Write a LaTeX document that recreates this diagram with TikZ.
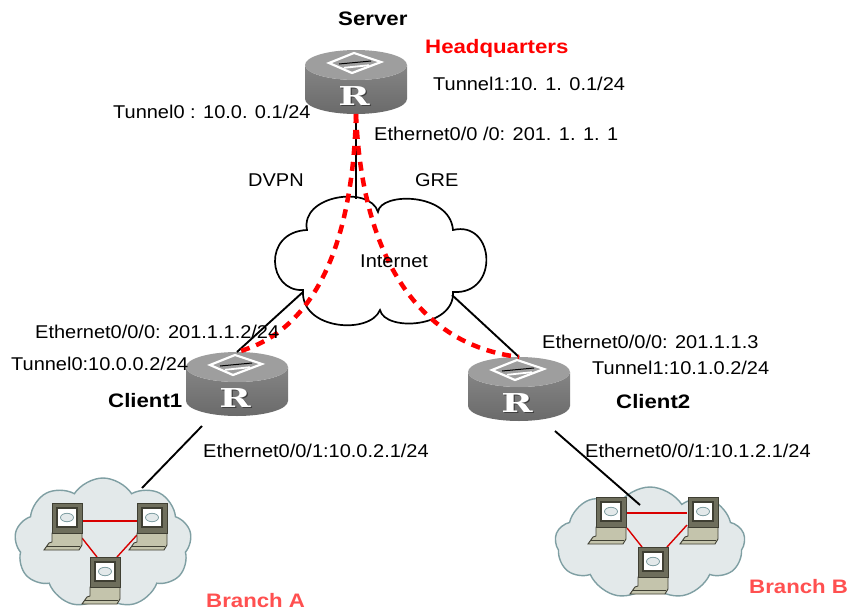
\documentclass[tikz,border=0pt]{standalone}
\usepackage{graphicx}
\usepackage{fontspec}
\setmainfont{Liberation Sans}[FakeStretch=1.08,BoldFeatures={FakeStretch=1.14}]
\newfontfamily\rfont{DejaVu Serif}
\usetikzlibrary{shapes.symbols}

\definecolor{rtop}{HTML}{9E9E9E}
\definecolor{rsideA}{HTML}{858585}
\definecolor{rsideB}{HTML}{6A6A6A}
\definecolor{tunred}{HTML}{FF0000}
\definecolor{branchred}{HTML}{FF5050}
\definecolor{cloudfill}{HTML}{E3E9EA}
\definecolor{cloudline}{HTML}{7F9FA3}
\definecolor{pcdark}{HTML}{3F3F33}
\definecolor{pcmid}{HTML}{6E6E5C}
\definecolor{pckey}{HTML}{C4C4AC}

\tikzset{
  lab/.style={anchor=base west, inner sep=0pt, font=\fontsize{18.5}{20}\selectfont},
  blab/.style={anchor=base west, inner sep=0pt, font=\fontsize{19.5}{21}\selectfont\bfseries},
  wire/.style={line width=1.9pt, black},
  tunnel/.style={line width=4.5pt, tunred, dash pattern=on 9pt off 7pt},
  lanlink/.style={line width=1.4pt, red!85!black},
  branchcloud/.style={cloud, cloud puffs=9, cloud puff arc=115, draw=cloudline,
    fill=cloudfill, line width=1.4pt, inner sep=0pt},
  % router: cylinder with a diamond on top and an R on the side
  router/.pic={
    \path[top color=rsideA, bottom color=rsideB]
      (-51,0) -- (-51,34) arc[start angle=180, end angle=0, x radius=51, y radius=15]
      -- (51,0) arc[start angle=0, end angle=180, x radius=51, y radius=15] -- cycle;
    \fill[rtop] (0,0) ellipse[x radius=51, y radius=15];
    \draw[white, line width=2.2pt, line join=miter] (-27,-2) -- (-2,-12) -- (25,-3) -- (-4,8) -- cycle;
    \draw[black, line width=1pt] (-17,-1) -- (15,-4);
    \draw[white, line width=1.8pt] (-12,2.8) -- (13,0.2);
    \node[inner sep=0pt, text=black!75, font=\rfont\bfseries\fontsize{26}{26}\selectfont] (-shadow) at (-0.8,32.2) {\scalebox{1.45}[1]{R}};
    \node[inner sep=0pt, text=white, font=\rfont\bfseries\fontsize{26}{26}\selectfont] (-glyph) at (-2,31) {\scalebox{1.45}[1]{R}};
    \coordinate (-top) at (0,-15);
    \coordinate (-bot) at (0,49);
  },
  % desktop computer: monitor centred on the origin, keyboard below
  pcicon/.pic={
    \draw[pcdark, fill=pckey, line width=0.9pt]
      (-15,15) -- (15,15) -- (15,27) -- (12,32) -- (-23,32) -- (-18,25) -- (-15,24) -- cycle;
    \draw[pcdark, line width=0.9pt] (-20,28) -- (13,28);
    \draw[pcdark, fill=pcmid, line width=0.9pt] (-15,-15) rectangle (15,15);
    \fill[pcdark] (-11,-11) rectangle (11,10);
    \fill[white] (-9,-9) rectangle (9,8);
    \draw[cloudline, fill=cloudfill, line width=0.8pt] (0,-0.5) ellipse[x radius=6.5, y radius=4.2];
  }
}

\begin{document}
\begin{tikzpicture}[x=1pt, y=-1pt]
\path[use as bounding box, fill=white] (0,0) rectangle (847,611);

% ---- Internet cloud ----
\draw[line width=1.7pt, fill=white]
  (303,290) .. controls (268,292) and (262,232) .. (307,230)
  .. controls (300,195) and (370,185) .. (378,212)
  .. controls (380,192) and (450,192) .. (453,230)
  .. controls (495,220) and (500,295) .. (453,292)
  .. controls (455,328) and (385,332) .. (380,310)
  .. controls (370,335) and (300,330) .. (303,290) -- cycle;
\coordinate (inet-n) at (356,199);
\coordinate (inet-sw) at (303,292);
\coordinate (inet-se) at (452,295);

% ---- branch clouds ----
\node[branchcloud, aspect=1.36, minimum width=177pt, minimum height=130pt] (brA) at (103,543) {};
\node[branchcloud, aspect=1.7, minimum width=190pt, minimum height=112pt] (brB) at (650,543) {};
\coordinate (brA-in) at (142,488);
\coordinate (brB-in) at (640,505);

% ---- routers ----
\pic (srv) at (356,65) {router};
\pic (cla) at (237,367) {router};
\pic (clb) at (519,372) {router};
\coordinate (cla-out) at (202,426);
\coordinate (clb-out) at (555,431);

% ---- physical links ----
\draw[wire] (srv-bot) -- (inet-n);
\draw[wire] (inet-sw) -- (cla-top);
\draw[wire] (inet-se) -- (clb-top);
\draw[wire] (cla-out) -- (brA-in);
\draw[wire] (clb-out) -- (brB-in);

% ---- tunnels ----
\draw[tunnel] (srv-bot) .. controls (352,270) and (300,335) .. (cla-top);
\draw[tunnel] (srv-bot) .. controls (362,260) and (420,345) .. (clb-top);

% ---- branch A hosts ----
\coordinate (a1) at (67,518);
\coordinate (a2) at (152,518);
\coordinate (a3) at (105,572);
\draw[lanlink] (82,521) -- (137,521);
\draw[lanlink] (82,538) -- (97,557);
\draw[lanlink] (137,535) -- (117,557);
\pic at (a1) {pcicon};
\pic at (a2) {pcicon};
\pic at (a3) {pcicon};

% ---- branch B hosts ----
\coordinate (b1) at (611,512);
\coordinate (b2) at (703,512);
\coordinate (b3) at (653,562);
\draw[lanlink] (627,513) -- (687,513);
\draw[lanlink] (627,528) -- (642,547);
\draw[lanlink] (687,525) -- (667,547);
\pic at (b1) {pcicon};
\pic at (b2) {pcicon};
\pic at (b3) {pcicon};

% ---- labels ----
\node[blab] (srvname) at (338,25) {Server};
\node[blab, text=tunred] (hq) at (425,53) {Headquarters};
\node[lab] (srvt1) at (433,90) {Tunnel1:10. 1. 0.1/24};
\node[lab] (srvt0) at (113,118) {Tunnel0 : 10.0. 0.1/24};
\node[lab] (srveth) at (374,140) {Ethernet0/0 /0: 201. 1. 1. 1};
\node[lab] (dvpn) at (248,186) {DVPN};
\node[lab] (gre) at (415,186) {GRE};
\node[lab] (inet) at (360,267) {Internet};
\node[lab] (claeth0) at (35,338) {Ethernet0/0/0: 201.1.1.2/24};
\node[lab] (clatun) at (11,370) {Tunnel0:10.0.0.2/24};
\node[blab] (claname) at (108,407) {Client1};
\node[lab] (claeth1) at (203,457) {Ethernet0/0/1:10.0.2.1/24};
\node[lab] (clbeth0) at (542,348) {Ethernet0/0/0: 201.1.1.3};
\node[lab] (clbtun) at (592,374) {Tunnel1:10.1.0.2/24};
\node[blab] (clbname) at (616,408) {Client2};
\node[lab] (clbeth1) at (585,457) {Ethernet0/0/1:10.1.2.1/24};
\node[blab, text=branchred] (brAname) at (206,607) {Branch A};
\node[blab, text=branchred] (brBname) at (749,593) {Branch B};
\end{tikzpicture}
\end{document}
